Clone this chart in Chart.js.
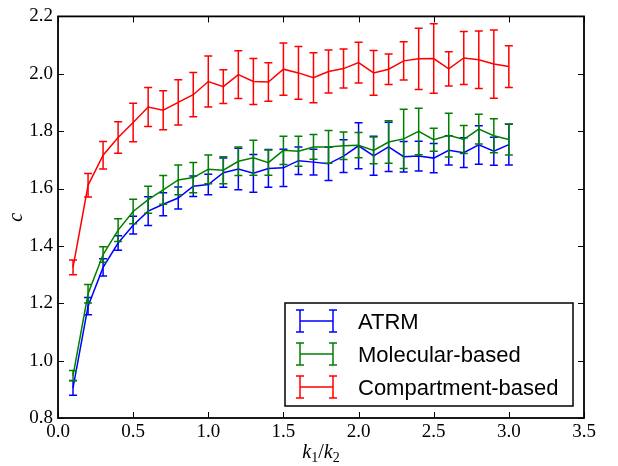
<!DOCTYPE html>
<html>
<head>
    <title>c vs k1/k2</title>
    <script src="https://cdn.jsdelivr.net/npm/chart.js"></script>
    <style>
        body { margin: 0; background: #fff; }
        canvas { display: block; }
    </style>
</head>
<body>
    <canvas id="errChart" width="618" height="466"></canvas>

    <script>
        // x positions (k1/k2)
        var ratios = [0.1, 0.2, 0.3, 0.4, 0.5, 0.6, 0.7, 0.8, 0.9, 1.0,
                      1.1, 1.2, 1.3, 1.4, 1.5, 1.6, 1.7, 1.8, 1.9, 2.0,
                      2.1, 2.2, 2.3, 2.4, 2.5, 2.6, 2.7, 2.8, 2.9, 3.0];

        // ATRM (blue)
        var atrmMean = [0.905, 1.190, 1.325, 1.410, 1.472, 1.521, 1.545, 1.567, 1.608, 1.614,
                        1.655, 1.668, 1.653, 1.670, 1.672, 1.697, 1.692, 1.686, 1.713, 1.749,
                        1.714, 1.745, 1.711, 1.713, 1.706, 1.733, 1.725, 1.752, 1.730, 1.753];
        var atrmErr  = [0.026, 0.030, 0.030, 0.025, 0.031, 0.050, 0.040, 0.038, 0.036, 0.036,
                        0.051, 0.072, 0.066, 0.066, 0.065, 0.048, 0.045, 0.058, 0.057, 0.080,
                        0.068, 0.086, 0.053, 0.052, 0.051, 0.051, 0.052, 0.067, 0.049, 0.071];

        // Molecular-based (green)
        var molMean = [0.948, 1.233, 1.370, 1.455, 1.520, 1.561, 1.595, 1.630, 1.638, 1.667,
                       1.664, 1.695, 1.707, 1.690, 1.733, 1.730, 1.745, 1.745, 1.749, 1.751,
                       1.733, 1.762, 1.773, 1.799, 1.770, 1.786, 1.771, 1.807, 1.784, 1.771];
        var molErr  = [0.018, 0.032, 0.027, 0.040, 0.043, 0.047, 0.050, 0.052, 0.053, 0.050,
                       0.047, 0.050, 0.061, 0.044, 0.049, 0.052, 0.043, 0.057, 0.048, 0.044,
                       0.047, 0.074, 0.103, 0.081, 0.040, 0.076, 0.049, 0.052, 0.059, 0.054];

        // Compartment-based (red)
        var compMean = [1.325, 1.611, 1.716, 1.778, 1.830, 1.884, 1.873, 1.900, 1.927, 1.973,
                        1.955, 1.997, 1.973, 1.971, 2.016, 2.003, 1.986, 2.008, 2.018, 2.039,
                        2.003, 2.016, 2.045, 2.052, 2.053, 2.017, 2.055, 2.049, 2.034, 2.025];
        var compErr  = [0.026, 0.041, 0.048, 0.055, 0.067, 0.068, 0.068, 0.079, 0.077, 0.089,
                        0.059, 0.083, 0.080, 0.067, 0.091, 0.092, 0.087, 0.075, 0.068, 0.071,
                        0.078, 0.053, 0.067, 0.107, 0.121, 0.060, 0.092, 0.100, 0.119, 0.073];

        var xTicks = [0.0, 0.5, 1.0, 1.5, 2.0, 2.5, 3.0, 3.5];
        var yTicks = [0.8, 1.0, 1.2, 1.4, 1.6, 1.8, 2.0, 2.2];

        var serif = '"Liberation Serif", "DejaVu Serif", serif';
        var sans = '"Liberation Sans", Arial, sans-serif';

        function points(xs, ys) {
            return xs.map(function(x, i) { return {x: x, y: ys[i]}; });
        }

        // error bars drawn right after each dataset so stacking order matches
        var errorBars = {
            id: 'errorBars',
            afterDatasetDraw: function(chart, args) {
                var ds = chart.data.datasets[args.index];
                var xs = chart.scales.x, ys = chart.scales.y;
                var ctx = chart.ctx;
                ctx.save();
                ctx.strokeStyle = ds.borderColor;
                ctx.lineWidth = 1.5;
                ds.data.forEach(function(p, i) {
                    var e = ds.errors[i];
                    var px = xs.getPixelForValue(p.x);
                    var top = ys.getPixelForValue(p.y + e);
                    var bot = ys.getPixelForValue(p.y - e);
                    ctx.beginPath();
                    ctx.moveTo(px, top); ctx.lineTo(px, bot);
                    ctx.moveTo(px - 4, top); ctx.lineTo(px + 4, top);
                    ctx.moveTo(px - 4, bot); ctx.lineTo(px + 4, bot);
                    ctx.stroke();
                });
                ctx.restore();
            }
        };

        // frame, inward ticks on all sides, axis titles, legend
        var frame = {
            id: 'frame',
            afterDatasetsDraw: function(chart) {
                var ctx = chart.ctx, a = chart.chartArea;
                var xs = chart.scales.x, ys = chart.scales.y;
                ctx.save();
                ctx.strokeStyle = '#000';
                ctx.lineWidth = 1;
                ctx.beginPath();
                xTicks.forEach(function(v) {
                    var px = Math.round(xs.getPixelForValue(v)) + 0.5;
                    ctx.moveTo(px, a.bottom); ctx.lineTo(px, a.bottom - 6);
                    ctx.moveTo(px, a.top); ctx.lineTo(px, a.top + 6);
                });
                yTicks.forEach(function(v) {
                    var py = Math.round(ys.getPixelForValue(v)) + 0.5;
                    ctx.moveTo(a.left, py); ctx.lineTo(a.left + 6, py);
                    ctx.moveTo(a.right, py); ctx.lineTo(a.right - 6, py);
                });
                ctx.stroke();
                ctx.lineWidth = 1.8;
                ctx.strokeRect(a.left, a.top, a.right - a.left, a.bottom - a.top);

                // axis titles
                ctx.fillStyle = '#000';
                ctx.textBaseline = 'alphabetic';
                ctx.textAlign = 'left';
                var cx = (a.left + a.right) / 2;
                var parts = [
                    {t: 'k', f: 'italic 20px ' + serif, dy: 0},
                    {t: '1', f: '14px ' + serif, dy: 4},
                    {t: '/', f: '20px ' + serif, dy: 0},
                    {t: 'k', f: 'italic 20px ' + serif, dy: 0},
                    {t: '2', f: '14px ' + serif, dy: 4}
                ];
                var w = 0;
                parts.forEach(function(p) { ctx.font = p.f; w += ctx.measureText(p.t).width; });
                var x0 = cx - w / 2;
                parts.forEach(function(p) {
                    ctx.font = p.f;
                    ctx.fillText(p.t, x0, 458 + p.dy);
                    x0 += ctx.measureText(p.t).width;
                });
                ctx.save();
                ctx.translate(22, (a.top + a.bottom) / 2);
                ctx.rotate(-Math.PI / 2);
                ctx.font = 'italic 20px ' + serif;
                ctx.textAlign = 'center';
                ctx.fillText('c', 0, 0);
                ctx.restore();

                // legend box
                var lx = 285, ly = 303, lw = 288, lh = 103;
                ctx.fillStyle = '#fff';
                ctx.fillRect(lx, ly, lw, lh);
                ctx.lineWidth = 1.5;
                ctx.strokeRect(lx, ly, lw, lh);
                var rows = [321, 354, 387];
                chart.data.datasets.forEach(function(ds, r) {
                    var cy = rows[r];
                    ctx.strokeStyle = ds.borderColor;
                    ctx.lineWidth = 1.5;
                    ctx.beginPath();
                    ctx.moveTo(300, cy); ctx.lineTo(333, cy);
                    [300, 333].forEach(function(hx) {
                        ctx.moveTo(hx, cy - 11); ctx.lineTo(hx, cy + 11);
                        ctx.moveTo(hx - 4, cy - 11); ctx.lineTo(hx + 4, cy - 11);
                        ctx.moveTo(hx - 4, cy + 11); ctx.lineTo(hx + 4, cy + 11);
                    });
                    ctx.stroke();
                    ctx.fillStyle = '#000';
                    ctx.font = '22px ' + sans;
                    ctx.fillText(ds.label, 358, cy + 8);
                });
                ctx.restore();
            }
        };

        var ctx = document.getElementById('errChart').getContext('2d');
        var errChart = new Chart(ctx, {
            type: 'line',
            data: {
                datasets: [{
                    label: 'ATRM',
                    data: points(ratios, atrmMean),
                    errors: atrmErr,
                    borderColor: '#0000ff',
                    order: 3
                }, {
                    label: 'Molecular-based',
                    data: points(ratios, molMean),
                    errors: molErr,
                    borderColor: '#008000',
                    order: 2
                }, {
                    label: 'Compartment-based',
                    data: points(ratios, compMean),
                    errors: compErr,
                    borderColor: '#ff0000',
                    order: 1
                }]
            },
            options: {
                responsive: false,
                animation: false,
                layout: { padding: { left: 0, right: 34, top: 12, bottom: 0 } },
                elements: {
                    line: { borderWidth: 1.5, tension: 0, fill: false },
                    point: { radius: 0, hoverRadius: 0 }
                },
                plugins: {
                    legend: { display: false },
                    tooltip: { enabled: false }
                },
                scales: {
                    x: {
                        type: 'linear',
                        min: 0, max: 3.5,
                        afterBuildTicks: function(s) { s.ticks = xTicks.map(function(v) { return {value: v}; }); },
                        ticks: {
                            callback: function(v) { return v.toFixed(1); },
                            font: { family: serif, size: 19 },
                            color: '#000',
                            padding: 3,
                            maxRotation: 0,
                            autoSkip: false
                        },
                        grid: { display: false, drawTicks: false },
                        border: { display: false },
                        afterFit: function(s) { s.height = 48; }
                    },
                    y: {
                        min: 0.8, max: 2.2,
                        afterBuildTicks: function(s) { s.ticks = yTicks.map(function(v) { return {value: v}; }); },
                        ticks: {
                            callback: function(v) { return v.toFixed(1); },
                            font: { family: serif, size: 19 },
                            color: '#000',
                            padding: 5,
                            autoSkip: false
                        },
                        grid: { display: false, drawTicks: false },
                        border: { display: false },
                        afterFit: function(s) { s.width = 58; }
                    }
                }
            },
            plugins: [errorBars, frame]
        });
    </script>
</body>
</html>
